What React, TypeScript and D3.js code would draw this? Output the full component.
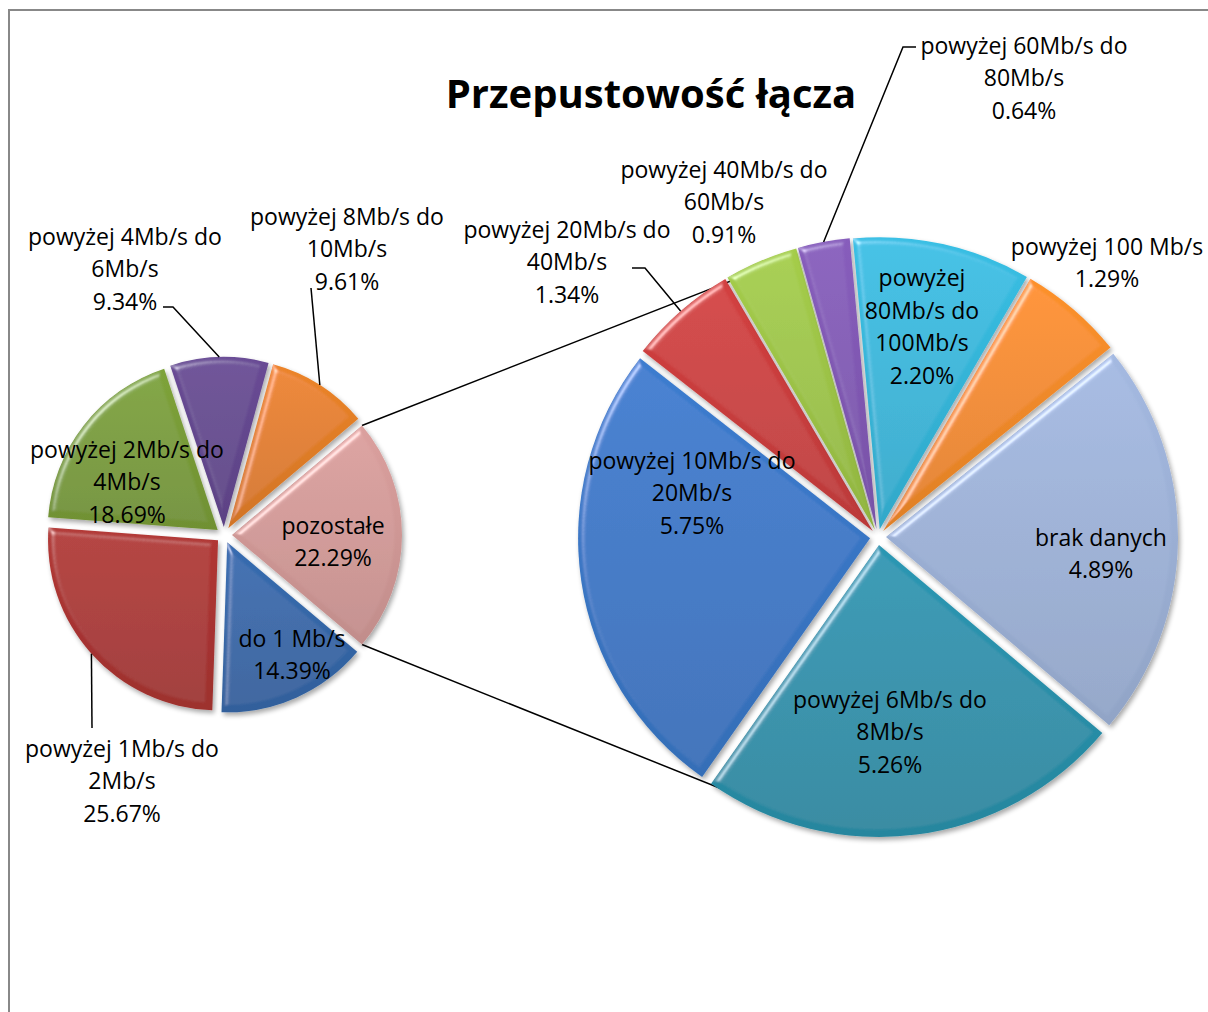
import React from 'react';
import * as d3 from 'd3';

// values (percent of all connections)
const MAIN_CATEGORIES = ['do 1 Mb/s', 'powyżej 1Mb/s do 2Mb/s', 'powyżej 2Mb/s do 4Mb/s', 'powyżej 4Mb/s do 6Mb/s', 'powyżej 8Mb/s do 10Mb/s'];
const MAIN_VALUES = [14.39, 25.67, 18.69, 9.34, 9.61];
const OTHER_CATEGORY = 'pozostałe';
const OTHER_VALUE = 22.29;

const SECOND_CATEGORIES = [
  'powyżej 6Mb/s do 8Mb/s',
  'powyżej 10Mb/s do 20Mb/s',
  'powyżej 20Mb/s do 40Mb/s',
  'powyżej 40Mb/s do 60Mb/s',
  'powyżej 60Mb/s do 80Mb/s',
  'powyżej 80Mb/s do 100Mb/s',
  'powyżej 100 Mb/s',
  'brak danych',
];
const SECOND_VALUES = [5.26, 5.75, 1.34, 0.91, 0.64, 2.2, 1.29, 4.89];

const TITLE = 'Przepustowość łącza';

// styling / layout
const COLORS: Record<string, string> = {
  'do 1 Mb/s': '#3568aa',
  'powyżej 1Mb/s do 2Mb/s': '#ac3532',
  'powyżej 2Mb/s do 4Mb/s': '#7a9d38',
  'powyżej 4Mb/s do 6Mb/s': '#654890',
  'powyżej 8Mb/s do 10Mb/s': '#e47f28',
  'pozostałe': '#d39a98',
  'powyżej 6Mb/s do 8Mb/s': '#2a92ad',
  'powyżej 10Mb/s do 20Mb/s': '#3a78c8',
  'powyżej 20Mb/s do 40Mb/s': '#cc3e3e',
  'powyżej 40Mb/s do 60Mb/s': '#9fc647',
  'powyżej 60Mb/s do 80Mb/s': '#825ab5',
  'powyżej 80Mb/s do 100Mb/s': '#36b8dc',
  'powyżej 100 Mb/s': '#f48c2a',
  'brak danych': '#9eb3d9',
};

// label block: text lines (name wrapped), block centre relative to the pie centre,
// optional leader points relative to the block centre
type LabelSpec = { lines: string[]; dx: number; dy: number; leader?: [number, number][] };
const LABELS: Record<string, LabelSpec> = {
  'do 1 Mb/s': { lines: ['do 1 Mb/s'], dx: 68, dy: 119 },
  'powyżej 1Mb/s do 2Mb/s': { lines: ['powyżej 1Mb/s do', '2Mb/s'], dx: -102, dy: 245, leader: [[-30, -52]] },
  'powyżej 2Mb/s do 4Mb/s': { lines: ['powyżej 2Mb/s do', '4Mb/s'], dx: -97, dy: -54 },
  'powyżej 4Mb/s do 6Mb/s': { lines: ['powyżej 4Mb/s do', '6Mb/s'], dx: -99, dy: -267, leader: [[38, 39], [48, 39]] },
  'powyżej 8Mb/s do 10Mb/s': { lines: ['powyżej 8Mb/s do', '10Mb/s'], dx: 123, dy: -287, leader: [[-36, 40]] },
  'pozostałe': { lines: ['pozostałe'], dx: 109, dy: 6 },
  'powyżej 6Mb/s do 8Mb/s': { lines: ['powyżej 6Mb/s do', '8Mb/s'], dx: 12, dy: 194 },
  'powyżej 10Mb/s do 20Mb/s': { lines: ['powyżej 10Mb/s do', '20Mb/s'], dx: -186, dy: -45 },
  'powyżej 20Mb/s do 40Mb/s': { lines: ['powyżej 20Mb/s do', '40Mb/s'], dx: -311, dy: -276, leader: [[65, 7], [78, 7]] },
  'powyżej 40Mb/s do 60Mb/s': { lines: ['powyżej 40Mb/s do', '60Mb/s'], dx: -154, dy: -336 },
  'powyżej 60Mb/s do 80Mb/s': { lines: ['powyżej 60Mb/s do', '80Mb/s'], dx: 146, dy: -460, leader: [[-108, -30], [-121, -30]] },
  'powyżej 80Mb/s do 100Mb/s': { lines: ['powyżej', '80Mb/s do', '100Mb/s'], dx: 44, dy: -211 },
  'powyżej 100 Mb/s': { lines: ['powyżej 100 Mb/s'], dx: 229, dy: -275 },
  'brak danych': { lines: ['brak danych'], dx: 223, dy: 16 },
};

const WIDTH = 1208;
const HEIGHT = 1012;
const MAIN = { cx: 224, cy: 535, r: 170 };
const SECOND = { cx: 878, cy: 537, r: 292 };
const EXPLODE = 8;
const LINE_H = 32.5;
const FONT = '"Open Sans", "DejaVu Sans", sans-serif';
const LABEL_SIZE = 23;

type Datum = { name: string; value: number };

function offsetOf(a: d3.PieArcDatum<Datum>, d: number) {
  const mid = (a.startAngle + a.endAngle) / 2;
  return [Math.sin(mid) * d, -Math.cos(mid) * d];
}

function outerMid(a: d3.PieArcDatum<Datum>, pie: { cx: number; cy: number; r: number }) {
  const mid = (a.startAngle + a.endAngle) / 2;
  const [ox, oy] = offsetOf(a, EXPLODE);
  return [pie.cx + ox + Math.sin(mid) * pie.r, pie.cy + oy - Math.cos(mid) * pie.r];
}

// tangent point on circle c seen from p, picking the side given by sign
function tangentPoint(p: number[], c: { cx: number; cy: number; r: number }, sign: number) {
  const vx = p[0] - c.cx;
  const vy = p[1] - c.cy;
  const dist = Math.hypot(vx, vy);
  const beta = Math.acos(c.r / dist);
  const ang = Math.atan2(vy, vx) + sign * beta;
  return [c.cx + c.r * Math.cos(ang), c.cy + c.r * Math.sin(ang)];
}

export default function App() {
  const mainData: Datum[] = [{ name: OTHER_CATEGORY, value: OTHER_VALUE }].concat(
    MAIN_CATEGORIES.map((name, i) => ({ name, value: MAIN_VALUES[i] }))
  );
  const secondData: Datum[] = SECOND_CATEGORIES.map((name, i) => ({ name, value: SECOND_VALUES[i] }));

  const mainTotal = d3.sum(mainData, d => d.value);
  const otherAngle = (OTHER_VALUE / mainTotal) * 2 * Math.PI;
  const mainStart = Math.PI / 2 - otherAngle / 2;
  const secondStart = Math.PI / 2 + otherAngle / 2;

  const mainArcs = d3.pie<Datum>().sort(null).value(d => d.value)
    .startAngle(mainStart).endAngle(mainStart + 2 * Math.PI)(mainData);
  const secondArcs = d3.pie<Datum>().sort(null).value(d => d.value)
    .startAngle(secondStart).endAngle(secondStart + 2 * Math.PI)(secondData);

  const mainArc = d3.arc<d3.PieArcDatum<Datum>>().innerRadius(0).outerRadius(MAIN.r);
  const secondArc = d3.arc<d3.PieArcDatum<Datum>>().innerRadius(0).outerRadius(SECOND.r);

  // connector lines from the "other" slice corners to the second pie
  const other = mainArcs[0];
  const [ox, oy] = offsetOf(other, EXPLODE);
  const cTop = [MAIN.cx + ox + Math.sin(other.startAngle) * MAIN.r, MAIN.cy + oy - Math.cos(other.startAngle) * MAIN.r];
  const cBot = [MAIN.cx + ox + Math.sin(other.endAngle) * MAIN.r, MAIN.cy + oy - Math.cos(other.endAngle) * MAIN.r];
  const tTop = tangentPoint(cTop, SECOND, 1);
  const tBot = tangentPoint(cBot, SECOND, -1);

  const allNames = mainData.concat(secondData).map(d => d.name);
  const gradId = (name: string) => 'grad' + allNames.indexOf(name);

  const slice = (a: d3.PieArcDatum<Datum>, arc: d3.Arc<any, d3.PieArcDatum<Datum>>, pie: { cx: number; cy: number }) => {
    const [dx, dy] = offsetOf(a, EXPLODE);
    return (
      <path
        key={a.data.name}
        d={arc(a) || ''}
        transform={`translate(${pie.cx + dx},${pie.cy + dy})`}
        fill={`url(#${gradId(a.data.name)})`}
        filter="url(#bevel)"
      />
    );
  };

  const label = (a: d3.PieArcDatum<Datum>, pie: { cx: number; cy: number; r: number }) => {
    const spec = LABELS[a.data.name];
    const lines = spec.lines.concat([a.data.value.toFixed(2) + '%']);
    const bx = pie.cx + spec.dx;
    const by = pie.cy + spec.dy;
    let leader: React.ReactNode = null;
    if (spec.leader) {
      const pts = spec.leader.map(([lx, ly]) => [bx + lx, by + ly]).concat([outerMid(a, pie)]);
      leader = <path d={d3.line()(pts as [number, number][]) || ''} fill="none" stroke="#000" strokeWidth={1.5} />;
    }
    return (
      <g key={'l' + a.data.name}>
        {leader}
        <text x={bx} y={by} textAnchor="middle" fontFamily={FONT} fontSize={LABEL_SIZE} fill="#000">
          {lines.map((t, i) => (
            <tspan key={i} x={bx} y={by + (i - (lines.length - 1) / 2) * LINE_H} dominantBaseline="central">{t}</tspan>
          ))}
        </text>
      </g>
    );
  };

  return (
    <svg width={WIDTH} height={HEIGHT} style={{ position: 'absolute', left: 0, top: 0, background: '#fff' }}>
      <defs>
        {allNames.map(name => {
          const c = d3.color(COLORS[name]) as d3.RGBColor;
          return (
            <linearGradient key={name} id={gradId(name)} x1="0" y1="0" x2="0" y2="1">
              <stop offset="0%" stopColor={c.brighter(0.1).formatHex()} />
              <stop offset="100%" stopColor={c.darker(0.25).formatHex()} />
            </linearGradient>
          );
        })}
        <filter id="bevel" x="-10%" y="-10%" width="125%" height="125%">
          <feGaussianBlur in="SourceAlpha" stdDeviation="3" result="blur" />
          <feSpecularLighting in="blur" surfaceScale="4" specularConstant="0.45" specularExponent="30" lightingColor="#ffffff" result="spec">
            <feDistantLight azimuth={225} elevation={40} />
          </feSpecularLighting>
          <feComposite in="spec" in2="SourceAlpha" operator="in" result="specIn" />
          <feComposite in="SourceGraphic" in2="specIn" operator="arithmetic" k1={0} k2={1} k3={1} k4={0} result="lit" />
          <feGaussianBlur in="SourceAlpha" stdDeviation="2.5" result="sb" />
          <feOffset in="sb" dx="2" dy="3" result="so" />
          <feComponentTransfer in="so" result="sh">
            <feFuncA type="linear" slope={0.35} />
          </feComponentTransfer>
          <feMerge>
            <feMergeNode in="sh" />
            <feMergeNode in="lit" />
          </feMerge>
        </filter>
      </defs>

      <rect x={9} y={10} width={WIDTH + 100} height={HEIGHT + 100} fill="#fff" stroke="#888" strokeWidth={2} />

      <text x={651} y={108} textAnchor="middle" fontFamily={FONT} fontWeight={700} fontSize={40} fill="#000">{TITLE}</text>

      <line x1={cTop[0]} y1={cTop[1]} x2={tTop[0]} y2={tTop[1]} stroke="#000" strokeWidth={1.5} />
      <line x1={cBot[0]} y1={cBot[1]} x2={tBot[0]} y2={tBot[1]} stroke="#000" strokeWidth={1.5} />

      <g>{mainArcs.map(a => slice(a, mainArc, MAIN))}</g>
      <g>{secondArcs.map(a => slice(a, secondArc, SECOND))}</g>

      <g>{mainArcs.map(a => label(a, MAIN))}</g>
      <g>{secondArcs.map(a => label(a, SECOND))}</g>
    </svg>
  );
}
